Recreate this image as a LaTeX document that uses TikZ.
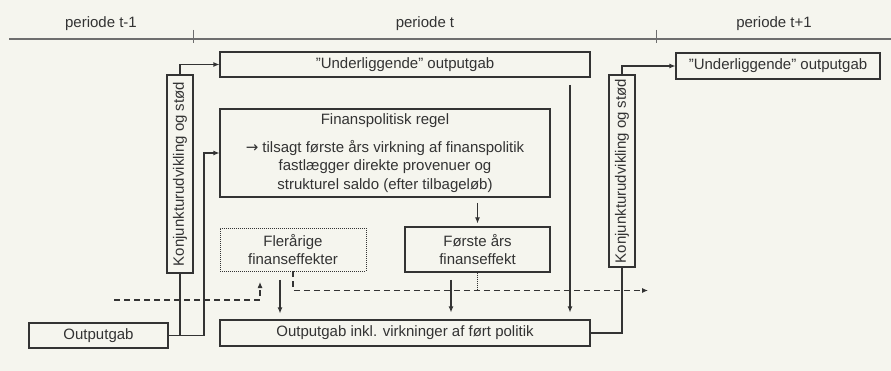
\documentclass[tikz,border=0pt]{standalone}
\usepackage{fontspec}
\setmainfont{Liberation Sans}
\newfontfamily\arrowfont{DejaVu Sans}
\usetikzlibrary{arrows.meta,calc}
\definecolor{bg}{HTML}{F5F5EE}
\definecolor{ink}{HTML}{333333}
\definecolor{axisgray}{HTML}{6E6E6E}
\begin{document}
\begin{tikzpicture}[x=1pt,y=-1pt,
  font=\fontsize{15}{17.5}\selectfont,
  box/.style={draw=ink, line width=1.1pt, inner sep=0pt, align=center, text=ink},
  dottedbox/.style={draw=ink, line width=0.8pt, dash pattern=on 1pt off 1pt, inner sep=0pt, align=center, text=ink},
  label/.style={text=ink, inner sep=0pt},
  conn/.style={draw=ink, line width=1.1pt},
  arr/.style={conn, -{Latex[length=6pt,width=5pt]}},
  dsh/.style={conn, dash pattern=on 6pt off 4pt},
  dotline/.style={draw=ink, line width=0.8pt, dash pattern=on 1pt off 1pt},
  axisline/.style={draw=axisgray, line width=2pt},
  tick/.style={draw=axisgray, line width=1pt}]
\fill[bg] (0,0) rectangle (891,371);
\useasboundingbox (0,0) rectangle (891,371);

% timeline
\coordinate (tl0) at (9,39);
\coordinate (tl1) at (891,39);
\draw[axisline] (tl0) -- (tl1);
\coordinate (tka) at (193.7,30);
\coordinate (tkb) at (193.7,43);
\coordinate (tkc) at (656,30);
\coordinate (tkd) at (656,43);
\draw[tick] (tka) -- (tkb);
\draw[tick] (tkc) -- (tkd);
\node[label] (p0) at (101,23.5) {periode t-1};
\node[label] (p1) at (425,23.5) {periode t};
\node[label] (p2) at (774,23.5) {periode t+1};

% boxes
\node[box, minimum width=370pt, minimum height=25pt] (und1) at (405,64.5) {”Underliggende” outputgab};
\node[box, minimum width=204pt, minimum height=26pt] (und2) at (778,66) {”Underliggende” outputgab};
\node[box, minimum width=26pt, minimum height=198pt] (kon1) at (180,174) {\rotatebox{90}{Konjunkturudvikling og stød}};
\node[box, minimum width=26pt, minimum height=192pt] (kon2) at (622,171) {\rotatebox{90}{Konjunkturudvikling og stød}};
\node[box, minimum width=330pt, minimum height=88pt, font=\fontsize{15}{18.5}\selectfont] (fin) at (385,153)
  {Finanspolitisk regel\\[9.5pt]{\arrowfont →} tilsagt første års virkning af finanspolitik\\fastlægger direkte provenuer og\\strukturel saldo (efter tilbageløb)};
\node[box, minimum width=145pt, minimum height=45pt] (first) at (477.5,249.5) {Første års\\finanseffekt};
\node[dottedbox, minimum width=146pt, minimum height=43pt] (fler) at (293,249.5) {Flerårige\\finanseffekter};
\node[box, minimum width=370pt, minimum height=26pt] (bot) at (405,333) {Outputgab inkl. virkninger af ført politik};
\node[box, minimum width=139pt, minimum height=25pt] (og) at (98.5,335.5) {Outputgab};

% connectors
\draw[arr] (kon1.north) |- (und1.west);
\draw[arr] (kon2.north) |- (und2.west);
\coordinate (bend1) at (204,335.5);
\draw[arr] (og.east) -- (bend1) |- (fin.west);
\draw[conn] (kon1.south) -- (kon1.south |- og.east);
\coordinate (f1) at (477.5,203);
\draw[arr, shorten >=3pt] (f1) -- (first.north);
\coordinate (u1) at (570,85);
\draw[arr, shorten >=7pt] (u1) -- (u1 |- bot.north);
\coordinate (f2) at (451,280);
\draw[arr, shorten >=7pt] (f2) -- (f2 |- bot.north);
\coordinate (f3) at (280,280);
\draw[arr, shorten >=6pt] (f3) -- (f3 |- bot.north);
\coordinate (dend) at (648,290.5);
\draw[dsh, -{Latex[length=6pt,width=5pt]}] (fler.south) |- (dend);
\draw[dotline] (first.south) -- (first.south |- dend);
\coordinate (din) at (114,300);
\coordinate (dup) at (260,282);
\draw[dsh, -{Latex[length=6pt,width=5pt]}] (din) -| (dup);
\draw[conn] (bot.east) -| (kon2.south);
\end{tikzpicture}
\end{document}
